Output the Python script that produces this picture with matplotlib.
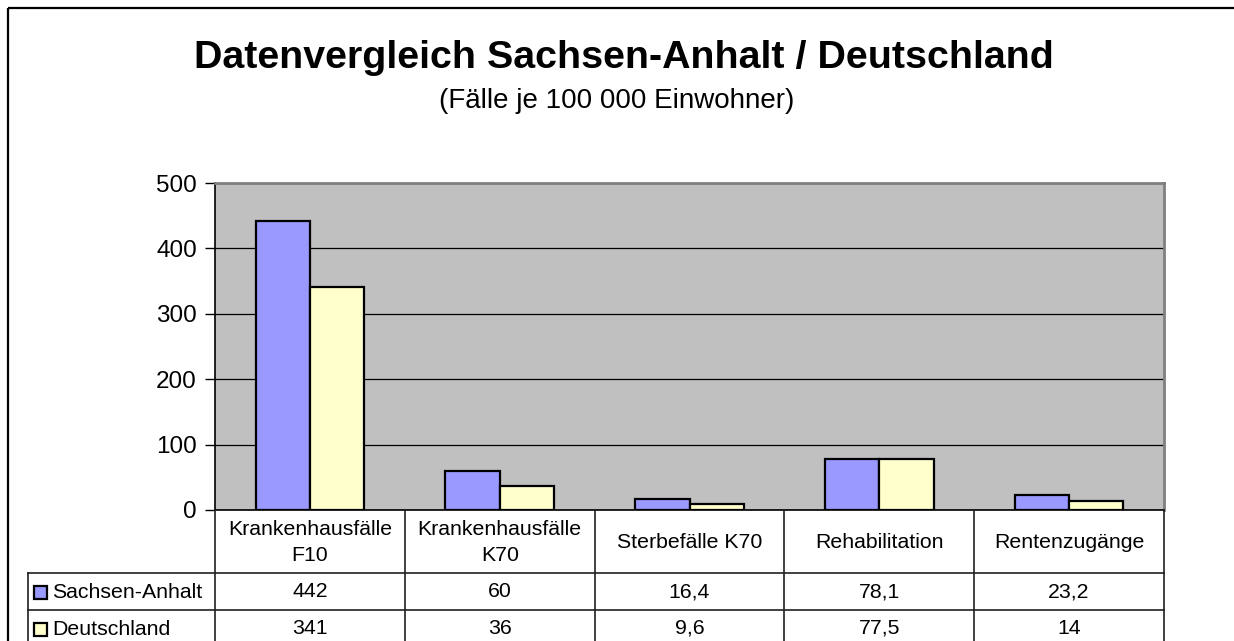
import matplotlib.pyplot as plt
from matplotlib.patches import Rectangle

plt.rcParams['font.family'] = ['Liberation Sans', 'DejaVu Sans']

# Data
categories = ['Krankenhausfälle\nF10', 'Krankenhausfälle\nK70', 'Sterbefälle K70',
              'Rehabilitation', 'Rentenzugänge']
series_names = ['Sachsen-Anhalt', 'Deutschland']
sachsen_anhalt = [442, 60, 16.4, 78.1, 23.2]
deutschland = [341, 36, 9.6, 77.5, 14]
colors = ['#9999FF', '#FFFFCC']

W, H = 1234, 641
fig = plt.figure(figsize=(W / 100, H / 100), dpi=100)

# plot area in pixel terms
left, right, top, bottom = 215, 1164, 183, 510
ax = fig.add_axes([left / W, 1 - bottom / H, (right - left) / W, (bottom - top) / H])
ax.set_facecolor('#C0C0C0')

n = len(categories)
bw = 1 / 3.5  # Excel gap width 150 %
xs = [i + 0.5 for i in range(n)]
for k, vals in enumerate([sachsen_anhalt, deutschland]):
    ax.bar([x - bw + k * bw for x in xs], vals, width=bw, align='edge',
           color=colors[k], edgecolor='black', linewidth=1.6, zorder=3)

ax.set_xlim(0, n)
ax.set_ylim(0, 500)
ax.set_yticks(range(0, 501, 100))
ax.set_xticks([])
ax.yaxis.grid(True, color='black', linewidth=0.9)
ax.set_axisbelow(True)
ax.tick_params(axis='y', labelsize=17.5, length=7, width=1, pad=6, color='black')
for s in ['top', 'right']:
    ax.spines[s].set_color('#808080')
    ax.spines[s].set_linewidth(2)
ax.spines['left'].set_color('black')
ax.spines['left'].set_linewidth(1.2)
ax.spines['bottom'].set_color('black')
ax.spines['bottom'].set_linewidth(1.2)

# overlay in pixel coordinates for titles, table and frame
ov = fig.add_axes([0, 0, 1, 1])
ov.set_xlim(0, W)
ov.set_ylim(H, 0)
ov.axis('off')
ov.patch.set_alpha(0)

ov.add_patch(Rectangle((8, 8), W, H, fill=False, edgecolor='black', linewidth=1.6))
ov.text(624, 58, 'Datenvergleich Sachsen-Anhalt / Deutschland', ha='center', va='center',
        fontsize=28.4, fontweight='bold')
ov.text(617, 101, '(Fälle je 100 000 Einwohner)', ha='center', va='center', fontsize=20)

# data table
col_w = (right - left) / n
row_y = [bottom, 573, 610, 647]
lc = '#202020'
for i in range(n + 1):
    ov.plot([left + i * col_w] * 2, [bottom, H], color=lc, lw=1.2)
ov.plot([28, 28], [row_y[1], H], color=lc, lw=1.2)
for y in row_y[1:3]:
    ov.plot([28, right], [y, y], color=lc, lw=1.2)

for i, cat in enumerate(categories):
    ov.text(left + (i + 0.5) * col_w, (row_y[0] + row_y[1]) / 2 + 1, cat, ha='center',
            va='center', fontsize=15.3, linespacing=1.45)

for r, (name, vals) in enumerate(zip(series_names, [sachsen_anhalt, deutschland])):
    yc = (row_y[r + 1] + row_y[r + 2]) / 2
    ov.add_patch(Rectangle((34, yc - 6), 13, 13, facecolor=colors[r], edgecolor='black',
                           linewidth=1.6))
    ov.text(52, yc + 1, name, ha='left', va='center', fontsize=15.3)
    for i, v in enumerate(vals):
        ov.text(left + (i + 0.5) * col_w, yc, f'{v:g}'.replace('.', ','), ha='center',
                va='center', fontsize=15.3)

fig.savefig('out.png', dpi=100)
